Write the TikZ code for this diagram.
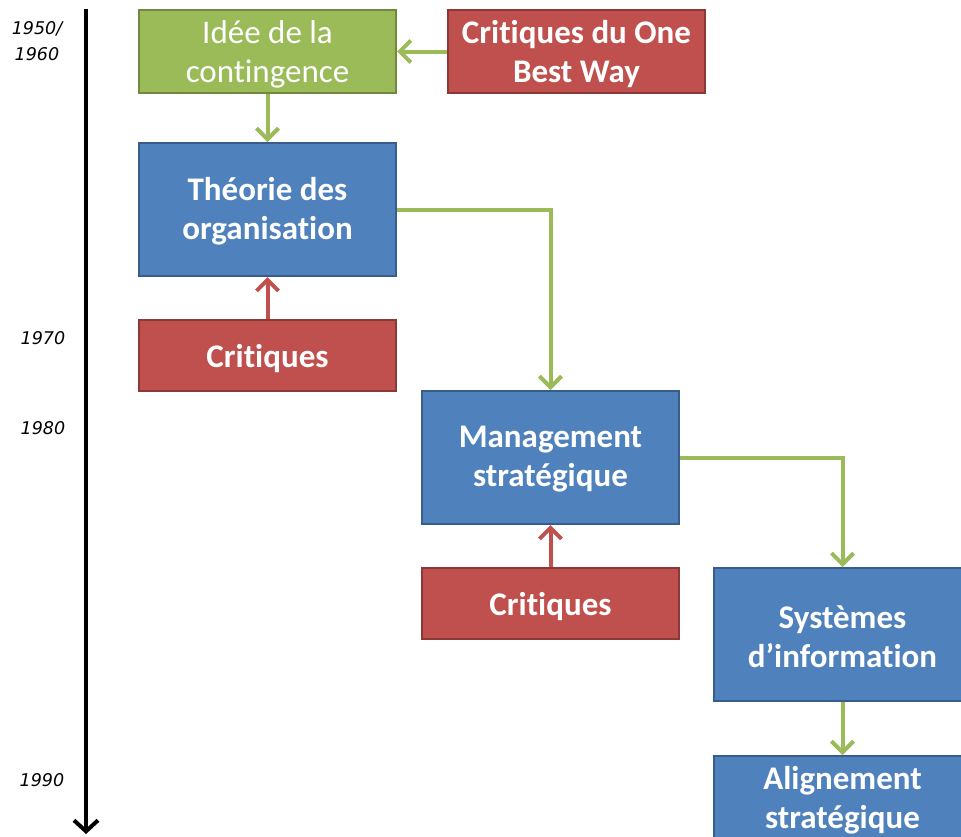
\documentclass[tikz,border=0pt]{standalone}
\usepackage{fontspec}
\setmainfont[Ligatures=NoCommon]{Carlito}
\newfontfamily\yearfont{DejaVu Sans}
\usetikzlibrary{arrows.meta}
\definecolor{gfill}{HTML}{9BBB59}
\definecolor{gline}{HTML}{71893F}
\definecolor{rfill}{HTML}{C0504D}
\definecolor{rline}{HTML}{8C3836}
\definecolor{bfill}{HTML}{4F81BD}
\definecolor{bline}{HTML}{385D8A}
\tikzset{
  x=1pt, y=-1pt,
  boxtxt/.style={text=white, align=center, inner sep=0pt, font=\fontsize{33}{39}\selectfont\bfseries},
  box/.style={draw, line width=2pt, minimum width=257pt, anchor=north west, inner sep=0pt},
  greenbox/.style={box, fill=gfill, draw=gline},
  redbox/.style={box, fill=rfill, draw=rline},
  bluebox/.style={box, fill=bfill, draw=bline},
  garrow/.style={draw=gfill, line width=4pt, -{Straight Barb[length=11pt, width=22pt, line width=4pt]}},
  rarrow/.style={draw=rfill, line width=4pt, -{Straight Barb[length=11pt, width=22pt, line width=4pt]}},
  year/.style={font=\yearfont\itshape\fontsize{17.5}{26}\selectfont, align=center, text=black}
}
\begin{document}
\begin{tikzpicture}
\useasboundingbox (0,0) rectangle (961,836);
\clip (0,0) rectangle (961,836);
% timeline
\coordinate (tTop) at (86,9);
\coordinate (tBot) at (86,834);
\draw[line width=4pt, -{Straight Barb[length=11pt, width=24pt, line width=4pt]}] (tTop) -- (tBot);
\node[year] (y50) at (37,41) {1950/\\1960};
\node[year] (y70) at (43,338) {1970};
\node[year] (y80) at (43,428) {1980};
\node[year] (y90) at (42,780) {1990};
% boxes
\node[greenbox, minimum height=83pt] (idee) at (138,9) {};
\node[boxtxt, font=\fontsize{33}{39}\selectfont] (ideeT) at ([yshift=-3pt]idee.center) {Idée de la\\contingence};
\node[redbox, minimum height=83pt] (obw) at (447,9) {};
\node[boxtxt] (obwT) at ([yshift=-3pt]obw.center) {Critiques du One\\Best Way};
\node[bluebox, minimum height=133pt] (theo) at (138,142) {};
\node[boxtxt] (theoT) at ([yshift=-2pt]theo.center) {Théorie des\\organisation};
\node[redbox, minimum height=71pt] (crit1) at (138,319) {};
\node[boxtxt] (crit1T) at ([yshift=-3pt]crit1.center) {Critiques};
\node[bluebox, minimum height=133pt] (mgmt) at (421,390) {};
\node[boxtxt] (mgmtT) at ([yshift=-2pt]mgmt.center) {Management\\stratégique};
\node[redbox, minimum height=71pt] (crit2) at (421,567) {};
\node[boxtxt] (crit2T) at ([yshift=-3pt]crit2.center) {Critiques};
\node[bluebox, minimum height=133pt] (sys) at (713,567) {};
\node[boxtxt] (sysT) at ([yshift=-2pt]sys.center) {Systèmes\\d’information};
\node[bluebox, minimum height=133pt] (align) at (713,755) {};
\node[boxtxt] (alignT) at ([yshift=-45pt]align.north) {Alignement\\stratégique};
% connectors
\draw[garrow] (obw.west) -- (idee.east);
\draw[garrow] (idee.south) -- (theo.north);
\draw[rarrow] (crit1.north) -- (theo.south);
\draw[garrow] (theo.east) -| (mgmt.north);
\draw[rarrow] (crit2.north) -- (mgmt.south);
\draw[garrow] (mgmt.east) -| (sys.north);
\draw[garrow] (sys.south) -- (align.north);
\end{tikzpicture}
\end{document}
